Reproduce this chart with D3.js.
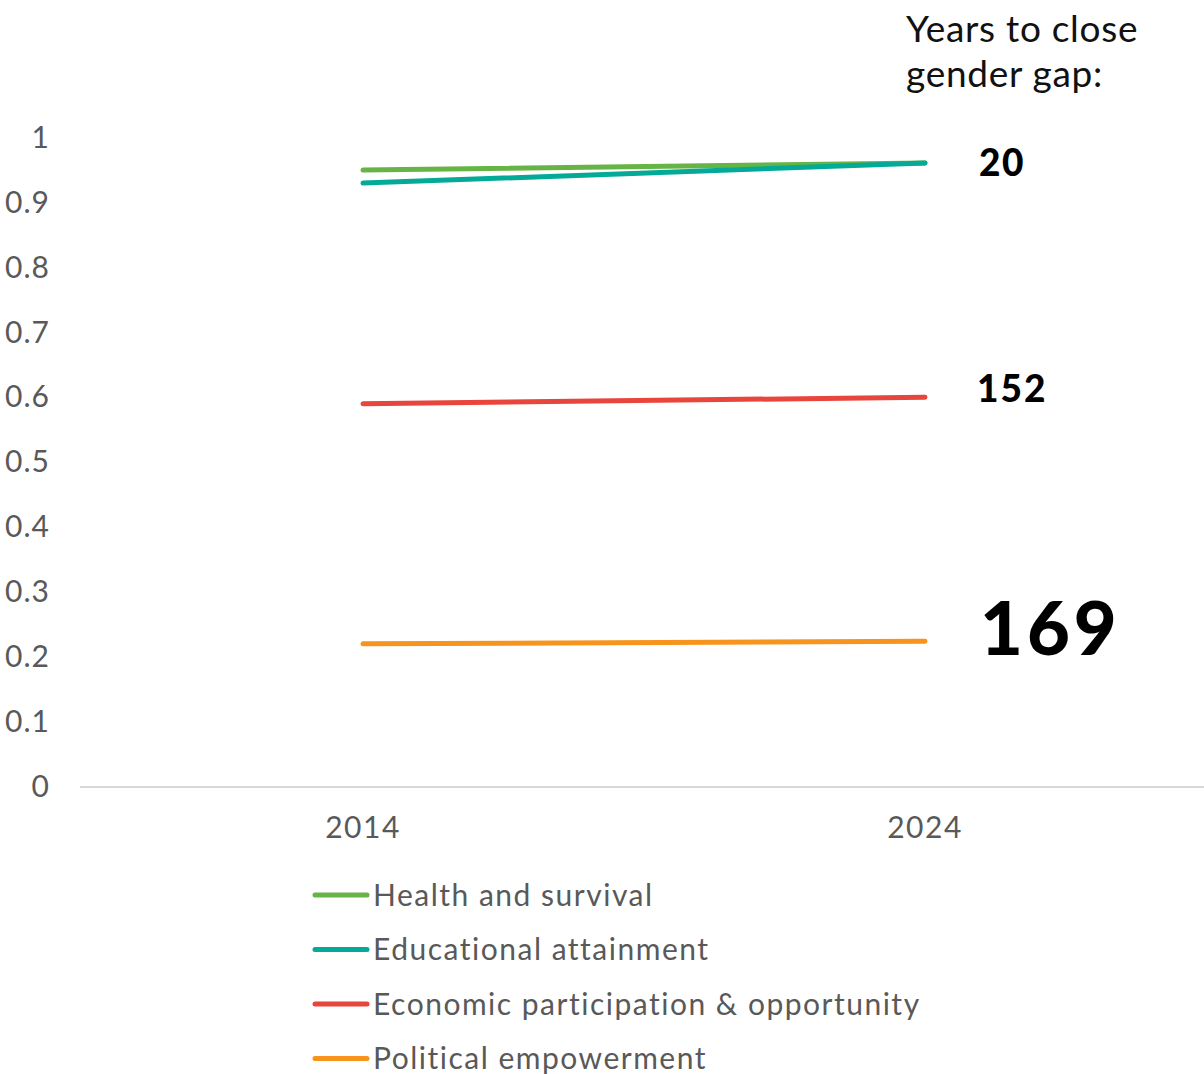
<!DOCTYPE html>
<html>
<head>
<meta charset="utf-8">
<script src="https://cdn.jsdelivr.net/npm/d3@7"></script>
<style>
  body { margin: 0; background: #fff; }
  svg { display: block; font-family: Lato, "Noto Sans", sans-serif; }
</style>
</head>
<body>
<div id="chart"></div>
<script>
// data
const years = ["2014", "2024"];
const seriesNames = ["Health and survival", "Educational attainment", "Economic participation & opportunity", "Political empowerment"];
const health = [0.949, 0.960];
const education = [0.929, 0.960];
const economic = [0.589, 0.599];
const political = [0.219, 0.223];
const yearsToClose = ["20", null, "152", "169"];
const yTicks = [0, 0.1, 0.2, 0.3, 0.4, 0.5, 0.6, 0.7, 0.8, 0.9, 1];

const colors = ["#67b446", "#03aa97", "#e8453c", "#f7941e"];
const allSeries = [health, education, economic, political];

const width = 1204, height = 1074;
const margin = {top: 137, right: 0, bottom: 288, left: 80};

const svg = d3.select("#chart")
  .append("svg")
  .attr("width", width)
  .attr("height", height);

const x = d3.scaleBand()
  .domain(years)
  .range([margin.left, width - margin.right]);

const y = d3.scaleLinear()
  .domain([0, 1])
  .range([height - margin.bottom, margin.top]);

// y tick labels
svg.append("g")
  .selectAll("text")
  .data(yTicks)
  .join("text")
  .attr("x", 50)
  .attr("y", d => y(d))
  .attr("dy", "0.36em")
  .attr("text-anchor", "end")
  .attr("font-size", 30)
  .attr("letter-spacing", 1)
  .attr("fill", "#595959")
  .text(d => d3.format("")(d));

// x axis line
svg.append("line")
  .attr("x1", margin.left)
  .attr("x2", width)
  .attr("y1", y(0) + 1)
  .attr("y2", y(0) + 1)
  .attr("stroke", "#d9d9d9")
  .attr("stroke-width", 2);

svg.append("g")
  .selectAll("text")
  .data(years)
  .join("text")
  .attr("x", d => x(d) + x.bandwidth() / 2 + 2)
  .attr("y", y(0) + 52)
  .attr("text-anchor", "middle")
  .attr("font-size", 30)
  .attr("letter-spacing", 1.5)
  .attr("fill", "#595959")
  .text(d => d);

const line = d3.line()
  .x((d, i) => x(years[i]) + x.bandwidth() / 2 + 2)
  .y(d => y(d));

svg.append("g")
  .selectAll("path")
  .data(allSeries)
  .join("path")
  .attr("d", d => line(d))
  .attr("fill", "none")
  .attr("stroke", (d, i) => colors[i])
  .attr("stroke-width", 5)
  .attr("stroke-linecap", "round");

// years to close labels
svg.append("text")
  .attr("font-size", 37)
  .attr("letter-spacing", 0.7)
  .attr("fill", "#111")
  .selectAll("tspan")
  .data(["Years to close", "gender gap:"])
  .join("tspan")
  .attr("x", 906)
  .attr("y", (d, i) => 42 + i * 45)
  .text(d => d);

const labelSizes = [37, 0, 37, 74];
const labelSpacing = [1.5, 0, 2, 4];
const labelX = [979, 0, 977, 980];
const labelShift = [0, 0, -9, -13];
allSeries.forEach((s, i) => {
  if (!yearsToClose[i]) return;
  svg.append("text")
    .attr("x", labelX[i])
    .attr("y", y(s[1]) + labelShift[i])
    .attr("dy", "0.36em")
    .attr("font-size", labelSizes[i])
    .attr("letter-spacing", labelSpacing[i])
    .attr("font-weight", 900)
    .attr("fill", "#000")
    .text(yearsToClose[i]);
});

// legend
const legend = svg.append("g")
  .selectAll("g")
  .data(seriesNames)
  .join("g")
  .attr("transform", (d, i) => `translate(315, ${895 + i * 54.5})`);

legend.append("line")
  .attr("x1", 0)
  .attr("x2", 52)
  .attr("stroke", (d, i) => colors[i])
  .attr("stroke-width", 5)
  .attr("stroke-linecap", "round");

legend.append("text")
  .attr("x", 58)
  .attr("dy", "0.36em")
  .attr("font-size", 30)
  .attr("fill", "#595959")
  .attr("letter-spacing", 1.5)
  .text(d => d);
</script>
</body>
</html>
